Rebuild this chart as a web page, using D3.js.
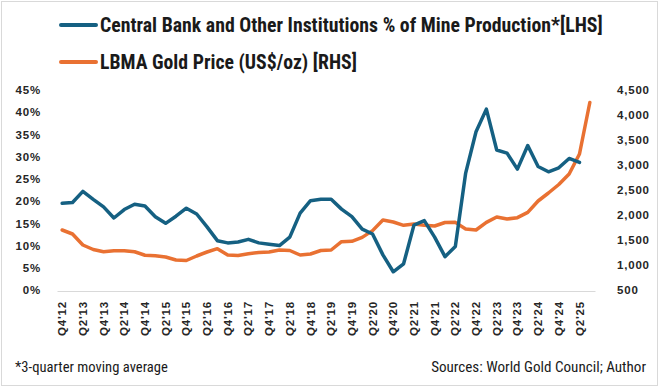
<!DOCTYPE html>
<html>
<head>
<meta charset="utf-8">
<script src="https://cdn.jsdelivr.net/npm/d3@7"></script>
<style>
  body { margin: 0; background: #fff; }
  #chart svg { display: block; }
  .narrow { font-family: "Roboto Condensed", "DejaVu Sans Condensed", sans-serif; }
  .tick text { font-family: "Liberation Sans", Arial, sans-serif; font-weight: bold; font-size: 11.5px; fill: #262626; letter-spacing: 0.8px; }
</style>
</head>
<body>
<div id="chart"></div>
<script>
// Quarters on the category axis (gold price runs one quarter longer)
var quarters = ["Q4'12","Q1'13","Q2'13","Q3'13","Q4'13","Q1'14","Q2'14","Q3'14","Q4'14","Q1'15","Q2'15","Q3'15","Q4'15",
  "Q1'16","Q2'16","Q3'16","Q4'16","Q1'17","Q2'17","Q3'17","Q4'17","Q1'18","Q2'18","Q3'18","Q4'18",
  "Q1'19","Q2'19","Q3'19","Q4'19","Q1'20","Q2'20","Q3'20","Q4'20","Q1'21","Q2'21","Q3'21","Q4'21",
  "Q1'22","Q2'22","Q3'22","Q4'22","Q1'23","Q2'23","Q3'23","Q4'23","Q1'24","Q2'24","Q3'24","Q4'24",
  "Q1'25","Q2'25","Q3'25"];

// Central bank & other institutions, % of mine production (3-quarter moving average)
var cbShare = [19.5, 19.7, 22.2, 20.4, 18.7, 16.2, 18.1, 19.3, 18.9, 16.5, 15.0, 16.6, 18.4,
  17.1, 14.2, 11.1, 10.6, 10.8, 11.4, 10.6, 10.3, 10.0, 11.9, 17.3, 20.1,
  20.4, 20.4, 18.2, 16.5, 13.7, 12.6, 7.9, 4.1, 5.9, 14.6, 15.6, 11.9,
  7.5, 9.8, 26.3, 35.6, 40.7, 31.5, 30.8, 27.2, 32.5, 27.8, 26.6, 27.5,
  29.6, 28.7];

// LBMA gold price, US$/oz
var goldPrice = [1700, 1620, 1400, 1310, 1265, 1285, 1285, 1265, 1195, 1185, 1160, 1100, 1090,
  1180, 1260, 1327, 1200, 1190, 1225, 1250, 1260, 1300, 1290, 1200, 1220,
  1290, 1300, 1467, 1473, 1553, 1687, 1900, 1860, 1793, 1820, 1793, 1780,
  1850, 1853, 1720, 1700, 1853, 1960, 1920, 1947, 2053, 2280, 2440, 2610,
  2820, 3220, 4250];

var leftTicks = [0, 0.05, 0.10, 0.15, 0.20, 0.25, 0.30, 0.35, 0.40, 0.45];
var rightTicks = [500, 1000, 1500, 2000, 2500, 3000, 3500, 4000, 4500];
var xTicks = quarters.filter(function(q, i) { return i % 2 === 0; });

var width = 660, height = 388;
var blue = "#156082", orange = "#E97132";

var svg = d3.select("#chart").append("svg")
  .attr("width", width)
  .attr("height", height);

svg.append("rect")
  .attr("x", 1.5).attr("y", 1.5)
  .attr("width", width - 4).attr("height", height - 4)
  .attr("fill", "#fff")
  .attr("stroke", "#d9d9d9");

var x = d3.scaleBand().domain(quarters).range([57, 595]);
var yL = d3.scaleLinear().domain([0, 0.45]).range([290, 90]);
var yR = d3.scaleLinear().domain([500, 4500]).range([290, 90]);
var half = x.bandwidth() / 2;

// axes
svg.append("g")
  .attr("transform", "translate(57,0)")
  .call(d3.axisLeft(yL).tickValues(leftTicks).tickFormat(d3.format(".0%")).tickSize(0).tickPadding(16))
  .call(function(g) { g.select(".domain").remove(); });

svg.append("g")
  .attr("transform", "translate(595,0)")
  .call(d3.axisRight(yR).tickValues(rightTicks).tickFormat(d3.format(",")).tickSize(0).tickPadding(22))
  .call(function(g) { g.select(".domain").remove(); });

var xAxis = svg.append("g")
  .attr("transform", "translate(0,291)")
  .call(d3.axisBottom(x).tickValues(xTicks).tickSize(0));
xAxis.select(".domain").attr("stroke", "#d9d9d9").attr("stroke-width", 1);
xAxis.selectAll(".tick text")
  .attr("x", 0).attr("y", 0).attr("dy", "0.35em")
  .attr("text-anchor", "end")
  .attr("transform", "translate(0,10) rotate(-90)");

// lines
var lineL = d3.line()
  .x(function(d, i) { return x(quarters[i]) + half; })
  .y(function(d) { return yL(d / 100); });
var lineR = d3.line()
  .x(function(d, i) { return x(quarters[i]) + half; })
  .y(function(d) { return yR(d); });

svg.append("path")
  .attr("d", lineR(goldPrice))
  .attr("fill", "none")
  .attr("stroke", orange)
  .attr("stroke-width", 3.5)
  .attr("stroke-linejoin", "round")
  .attr("stroke-linecap", "round");

svg.append("path")
  .attr("d", lineL(cbShare))
  .attr("fill", "none")
  .attr("stroke", blue)
  .attr("stroke-width", 3.5)
  .attr("stroke-linejoin", "round")
  .attr("stroke-linecap", "round");

// pick the font size that gives the width the text has in the picture
function fitText(sel, w) {
  var size = +sel.attr("font-size");
  var len = sel.node().getComputedTextLength();
  sel.attr("font-size", (size * w / len).toFixed(2));
}

// legend
var legendItems = [
  { label: "Central Bank and Other Institutions % of Mine Production*[LHS]", color: blue, y: 25, w: 503 },
  { label: "LBMA Gold Price (US$/oz) [RHS]", color: orange, y: 62, w: 257 }
];
var legend = svg.selectAll(".legend")
  .data(legendItems)
  .enter().append("g")
  .attr("class", "legend")
  .attr("transform", function(d) { return "translate(0," + d.y + ")"; });

legend.append("line")
  .attr("x1", 61).attr("x2", 96)
  .attr("stroke", function(d) { return d.color; })
  .attr("stroke-width", 4)
  .attr("stroke-linecap", "round");

legend.append("text")
  .attr("class", "narrow")
  .attr("x", 100)
  .attr("dy", "0.35em")
  .attr("font-size", 18)
  .attr("font-weight", "bold")
  .attr("fill", "#1a1a1a")
  .text(function(d) { return d.label; })
  .each(function(d) { fitText(d3.select(this), d.w); });

// footnotes
var note = svg.append("text")
  .attr("class", "narrow")
  .attr("x", 15).attr("y", 367)
  .attr("dy", "0.35em")
  .attr("font-size", 13.5)
  .attr("fill", "#1a1a1a")
  .text("*3-quarter moving average");
fitText(note, 153);

var src = svg.append("text")
  .attr("class", "narrow")
  .attr("x", 646).attr("y", 367)
  .attr("dy", "0.35em")
  .attr("text-anchor", "end")
  .attr("font-size", 13.5)
  .attr("fill", "#1a1a1a")
  .text("Sources: World Gold Council; Author");
fitText(src, 215);
</script>
</body>
</html>
